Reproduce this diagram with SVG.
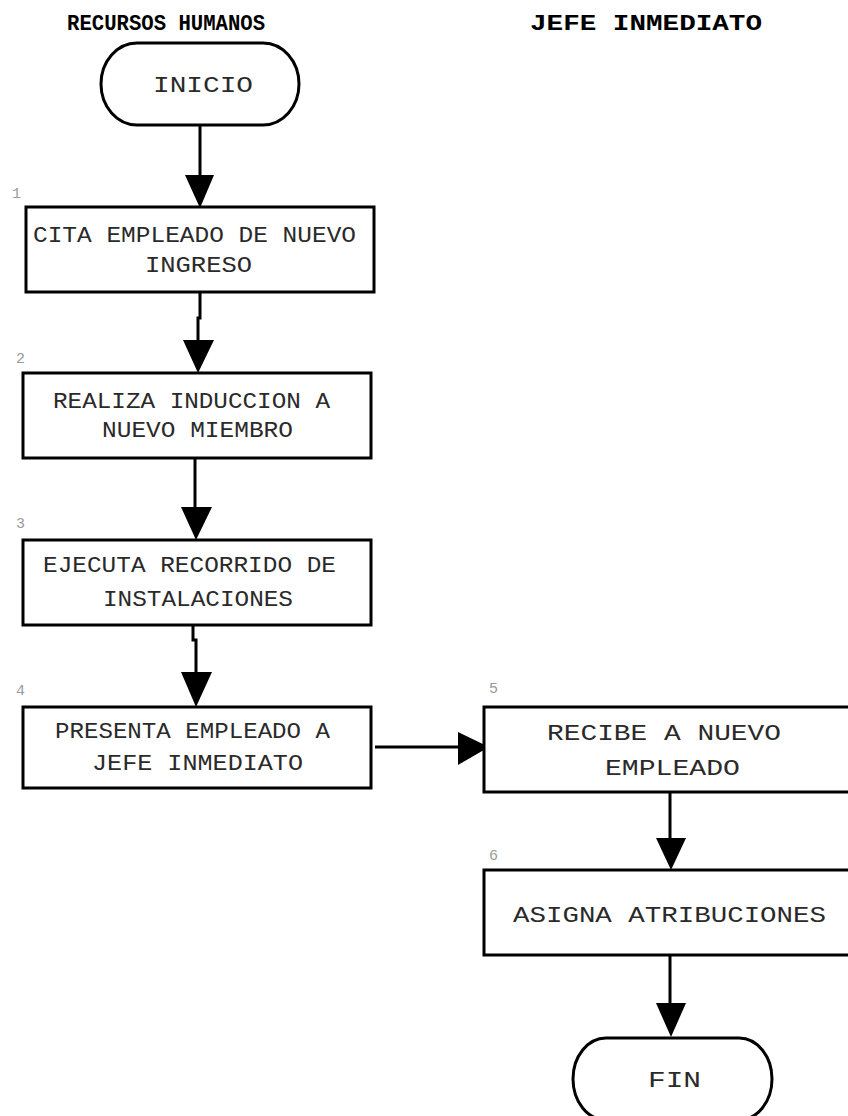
<svg xmlns="http://www.w3.org/2000/svg" width="848" height="1116" viewBox="0 0 848 1116">
  <defs>
    <style>
      .box { fill: #fff; stroke: #000; stroke-width: 3; }
      .line { fill: none; stroke: #000; stroke-width: 3; }
      .head { fill: #000; stroke: none; }
      .lbl { font-family: "Liberation Mono", "Courier New", monospace; font-size: 22px; fill: #2a2a2a; }
      .lane { font-family: "Liberation Mono", "Courier New", monospace; font-size: 22px; font-weight: bold; fill: #000; }
      .num { font-family: "Liberation Mono", "Courier New", monospace; font-size: 15px; fill: #9a9a9a; }
    </style>
  </defs>
  <rect width="848" height="1116" fill="#fff"/>

  <!-- swimlane headers -->
  <g id="lanes">
    <text class="lane" x="67" y="30" textLength="198" lengthAdjust="spacingAndGlyphs">RECURSOS HUMANOS</text>
    <text class="lane" x="530" y="30" textLength="232" lengthAdjust="spacingAndGlyphs">JEFE INMEDIATO</text>
  </g>

  <!-- connectors -->
  <g id="connectors">
    <path class="line" d="M200 125 V178"/>
    <polygon class="head" points="185,175 214,175 200,208"/>

    <path class="line" d="M200 292 V318 H198 V343"/>
    <polygon class="head" points="183,340 214,340 198,373"/>

    <path class="line" d="M195 458 V510"/>
    <polygon class="head" points="181,507 212,507 196,540"/>

    <path class="line" d="M193 625 V640 H196 V675"/>
    <polygon class="head" points="181,672 212,672 196,707"/>

    <path class="line" d="M375 747 H462"/>
    <polygon class="head" points="458,732 458,765 489,747"/>

    <path class="line" d="M670 792 V841"/>
    <polygon class="head" points="656,838 686,838 671,870"/>

    <path class="line" d="M670 955 V1006"/>
    <polygon class="head" points="656,1003 686,1003 671,1037"/>
  </g>

  <g id="inicio">
    <rect class="box" x="101" y="43" width="198" height="82" rx="36" ry="41"/>
    <text class="lbl" x="153" y="92" textLength="100" lengthAdjust="spacingAndGlyphs">INICIO</text>
  </g>

  <g id="paso1">
    <text class="num" x="12" y="198">1</text>
    <rect class="box" x="26" y="207" width="348" height="85"/>
    <text class="lbl" x="33" y="242" textLength="323" lengthAdjust="spacingAndGlyphs">CITA EMPLEADO DE NUEVO</text>
    <text class="lbl" x="145" y="272" textLength="107" lengthAdjust="spacingAndGlyphs">INGRESO</text>
  </g>

  <g id="paso2">
    <text class="num" x="16" y="363">2</text>
    <rect class="box" x="23" y="373" width="348" height="85"/>
    <text class="lbl" x="53" y="408" textLength="277" lengthAdjust="spacingAndGlyphs">REALIZA INDUCCION A</text>
    <text class="lbl" x="102" y="437" textLength="191" lengthAdjust="spacingAndGlyphs">NUEVO MIEMBRO</text>
  </g>

  <g id="paso3">
    <text class="num" x="16" y="528">3</text>
    <rect class="box" x="23" y="540" width="348" height="85"/>
    <text class="lbl" x="43" y="572" textLength="293" lengthAdjust="spacingAndGlyphs">EJECUTA RECORRIDO DE</text>
    <text class="lbl" x="103" y="606" textLength="190" lengthAdjust="spacingAndGlyphs">INSTALACIONES</text>
  </g>

  <g id="paso4">
    <text class="num" x="16" y="695">4</text>
    <rect class="box" x="23" y="707" width="348" height="81"/>
    <text class="lbl" x="55" y="738" textLength="275" lengthAdjust="spacingAndGlyphs">PRESENTA EMPLEADO A</text>
    <text class="lbl" x="92" y="770" textLength="211" lengthAdjust="spacingAndGlyphs">JEFE INMEDIATO</text>
  </g>

  <g id="paso5">
    <text class="num" x="489" y="693">5</text>
    <rect class="box" x="484" y="707" width="380" height="85"/>
    <text class="lbl" x="547" y="740" textLength="234" lengthAdjust="spacingAndGlyphs">RECIBE A NUEVO</text>
    <text class="lbl" x="605" y="775" textLength="135" lengthAdjust="spacingAndGlyphs">EMPLEADO</text>
  </g>

  <g id="paso6">
    <text class="num" x="489" y="860">6</text>
    <rect class="box" x="484" y="870" width="380" height="85"/>
    <text class="lbl" x="513" y="922" textLength="313" lengthAdjust="spacingAndGlyphs">ASIGNA ATRIBUCIONES</text>
  </g>

  <g id="fin">
    <rect class="box" x="573" y="1038" width="199" height="82" rx="33" ry="41"/>
    <text class="lbl" x="648" y="1087" textLength="53" lengthAdjust="spacingAndGlyphs">FIN</text>
  </g>
</svg>
